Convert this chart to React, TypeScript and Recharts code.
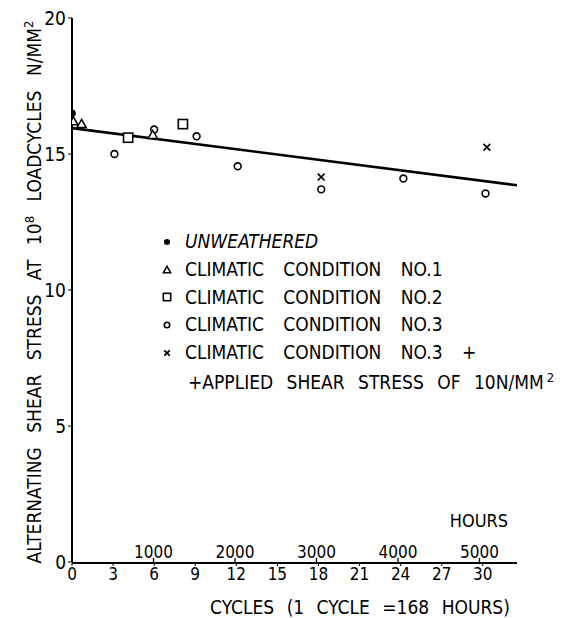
import { ScatterChart, Scatter, XAxis, YAxis } from 'recharts'

const FONT = "'Liberation Sans Narrow', 'DejaVu Sans Condensed', 'Liberation Sans', sans-serif"

// cycles (x) vs alternating shear stress at 10^8 load cycles, N/mm2 (y)
const UNWEATHERED = [{ c: 0, v: 16.5 }]
const COND_1 = [
  { c: 0.1, v: 16.2 },
  { c: 0.7, v: 16.1 },
  { c: 5.9, v: 15.7 },
]
const COND_2 = [
  { c: 4.1, v: 15.6 },
  { c: 8.1, v: 16.1 },
]
const COND_3 = [
  { c: 3.1, v: 15.0 },
  { c: 6.0, v: 15.9 },
  { c: 9.1, v: 15.65 },
  { c: 12.1, v: 14.55 },
  { c: 18.2, v: 13.7 },
  { c: 24.2, v: 14.1 },
  { c: 30.2, v: 13.55 },
]
const COND_3_STRESS = [
  { c: 18.2, v: 14.15 },
  { c: 30.3, v: 15.25 },
]
const FIT = [
  { c: 0, v: 15.95 },
  { c: 32.5, v: 13.85 },
]

const CYCLE_TICKS = [0, 3, 6, 9, 12, 15, 18, 21, 24, 27, 30]
const HOUR_TICKS = [1000, 2000, 3000, 4000, 5000]
const Y_TICKS = [0, 5, 10, 15, 20]
const LEGEND = [
  { marker: 'dot', text: 'UNWEATHERED', italic: true },
  { marker: 'tri', text: 'CLIMATIC CONDITION NO.1' },
  { marker: 'sq', text: 'CLIMATIC CONDITION NO.2' },
  { marker: 'circ', text: 'CLIMATIC CONDITION NO.3' },
  { marker: 'x', text: 'CLIMATIC CONDITION NO.3 +' },
  { marker: '', text: '+APPLIED SHEAR STRESS OF 10N/MM', sup: '2' },
]

function Marker({ kind, cx, cy, s = 1 }: { kind: string; cx: number; cy: number; s?: number }) {
  if (kind === 'dot') return <circle cx={cx} cy={cy} r={3.8 * s} fill="#000" />
  if (kind === 'circ') return <circle cx={cx} cy={cy} r={3.4 * s} fill="#fff" stroke="#000" strokeWidth={1.6} />
  if (kind === 'sq') {
    const h = 4.6 * s
    return <rect x={cx - h} y={cy - h} width={h * 2} height={h * 2} fill="#fff" stroke="#000" strokeWidth={1.6} />
  }
  if (kind === 'tri') {
    const h = 4.6 * s
    return (
      <polygon
        points={`${cx},${cy - h} ${cx + h},${cy + h * 0.75} ${cx - h},${cy + h * 0.75}`}
        fill="#fff" stroke="#000" strokeWidth={1.5}
      />
    )
  }
  if (kind === 'x') {
    const h = 3.4 * s
    return (
      <g stroke="#000" strokeWidth={1.7}>
        <line x1={cx - h} y1={cy - h} x2={cx + h} y2={cy + h} />
        <line x1={cx - h} y1={cy + h} x2={cx + h} y2={cy - h} />
      </g>
    )
  }
  return <g />
}

const shape = (kind: string) => (props: any) => {
  const { cx, cy } = props
  if (cx == null || cy == null) return <g />
  return <Marker kind={kind} cx={cx} cy={cy} />
}

// hours axis sits on the same line as the cycles axis, labels above it
function HourTick(props: any) {
  const { x, y, payload } = props
  return (
    <g>
      <line x1={x} y1={y} x2={x} y2={y - 4} stroke="#000" strokeWidth={1.3} />
      <text x={x} y={y - 4} textAnchor="middle" fontSize={17} fontFamily={FONT} fill="#000">
        {payload.value}
      </text>
    </g>
  )
}

function YLabel() {
  const x = 41
  const y = 292
  return (
    <text
      x={x} y={y} transform={`rotate(-90, ${x}, ${y})`} textAnchor="middle"
      fontSize={19} fontFamily={FONT} fill="#000" wordSpacing={9}
    >
      ALTERNATING SHEAR STRESS AT 10
      <tspan dy={-7} fontSize={13}>8</tspan>
      <tspan dy={7}> LOADCYCLES  N/MM</tspan>
      <tspan dy={-8} fontSize={13}>2</tspan>
    </text>
  )
}

function XLabel() {
  return (
    <text x={360} y={614} textAnchor="middle" fontSize={19} fontFamily={FONT} fill="#000" wordSpacing={7}>
      CYCLES (1 CYCLE =168  HOURS)
    </text>
  )
}

export default function App() {
  return (
    <div style={{ position: 'relative', width: 572, height: 618, background: '#fff' }}>
      <style>{'body{margin:0}'}</style>
      <ScatterChart width={572} height={618} margin={{ top: 18, right: 55, bottom: 0, left: 0 }}>
        <XAxis
          xAxisId="cycles"
          dataKey="c"
          type="number"
          domain={[0, 32.5]}
          ticks={CYCLE_TICKS}
          height={55}
          tickSize={3}
          tickMargin={2}
          axisLine={{ stroke: '#000', strokeWidth: 2 }}
          tickLine={{ stroke: '#000' }}
          tick={{ fill: '#000', fontSize: 17, fontFamily: FONT }}
          label={<XLabel />}
          allowDataOverflow
        />
        <XAxis
          xAxisId="ahours"
          dataKey="h"
          type="number"
          domain={[0, 32.5 * 168]}
          ticks={HOUR_TICKS}
          height={1}
          tickSize={0}
          tickMargin={0}
          axisLine={false}
          tick={<HourTick />}
          allowDataOverflow
        />
        <YAxis
          dataKey="v"
          type="number"
          domain={[0, 20]}
          ticks={Y_TICKS}
          width={72}
          tickSize={4}
          tickMargin={2}
          axisLine={{ stroke: '#000', strokeWidth: 2 }}
          tickLine={{ stroke: '#000' }}
          tick={{ fill: '#000', fontSize: 19, fontFamily: FONT }}
          label={<YLabel />}
        />
        <Scatter xAxisId="ahours" data={[]} isAnimationActive={false} />
        <Scatter xAxisId="cycles" data={FIT} line={{ stroke: '#000', strokeWidth: 2.6 }} lineType="joint" shape={() => <g />} isAnimationActive={false} />
        <Scatter xAxisId="cycles" data={COND_3} shape={shape('circ')} isAnimationActive={false} />
        <Scatter xAxisId="cycles" data={COND_3_STRESS} shape={shape('x')} isAnimationActive={false} />
        <Scatter xAxisId="cycles" data={COND_2} shape={shape('sq')} isAnimationActive={false} />
        <Scatter xAxisId="cycles" data={COND_1} shape={shape('tri')} isAnimationActive={false} />
        <Scatter xAxisId="cycles" data={UNWEATHERED} shape={shape('dot')} isAnimationActive={false} />
      </ScatterChart>

      <div style={{ position: 'absolute', left: 479, top: 520, transform: 'translate(-50%, -50%)', fontFamily: FONT, fontSize: 18 }}>
        HOURS
      </div>

      <div style={{ position: 'absolute', left: 158, top: 228, fontFamily: FONT, fontSize: 19, lineHeight: '27.8px' }}>
        {LEGEND.map(row => (
          <div key={row.text} style={{ display: 'flex', alignItems: 'center', height: 27.8, whiteSpace: 'nowrap', wordSpacing: row.marker ? 14 : 8 }}>
            <svg width={22} height={20} style={{ flexShrink: 0 }}>
              <Marker kind={row.marker} cx={9} cy={10} s={0.8} />
            </svg>
            <span style={{ marginLeft: row.marker ? 5 : 8, fontStyle: row.italic ? 'italic' : 'normal' }}>
              {row.text}
              {row.sup && <sup style={{ fontSize: 13, marginLeft: 3 }}>{row.sup}</sup>}
            </span>
          </div>
        ))}
      </div>
    </div>
  )
}
